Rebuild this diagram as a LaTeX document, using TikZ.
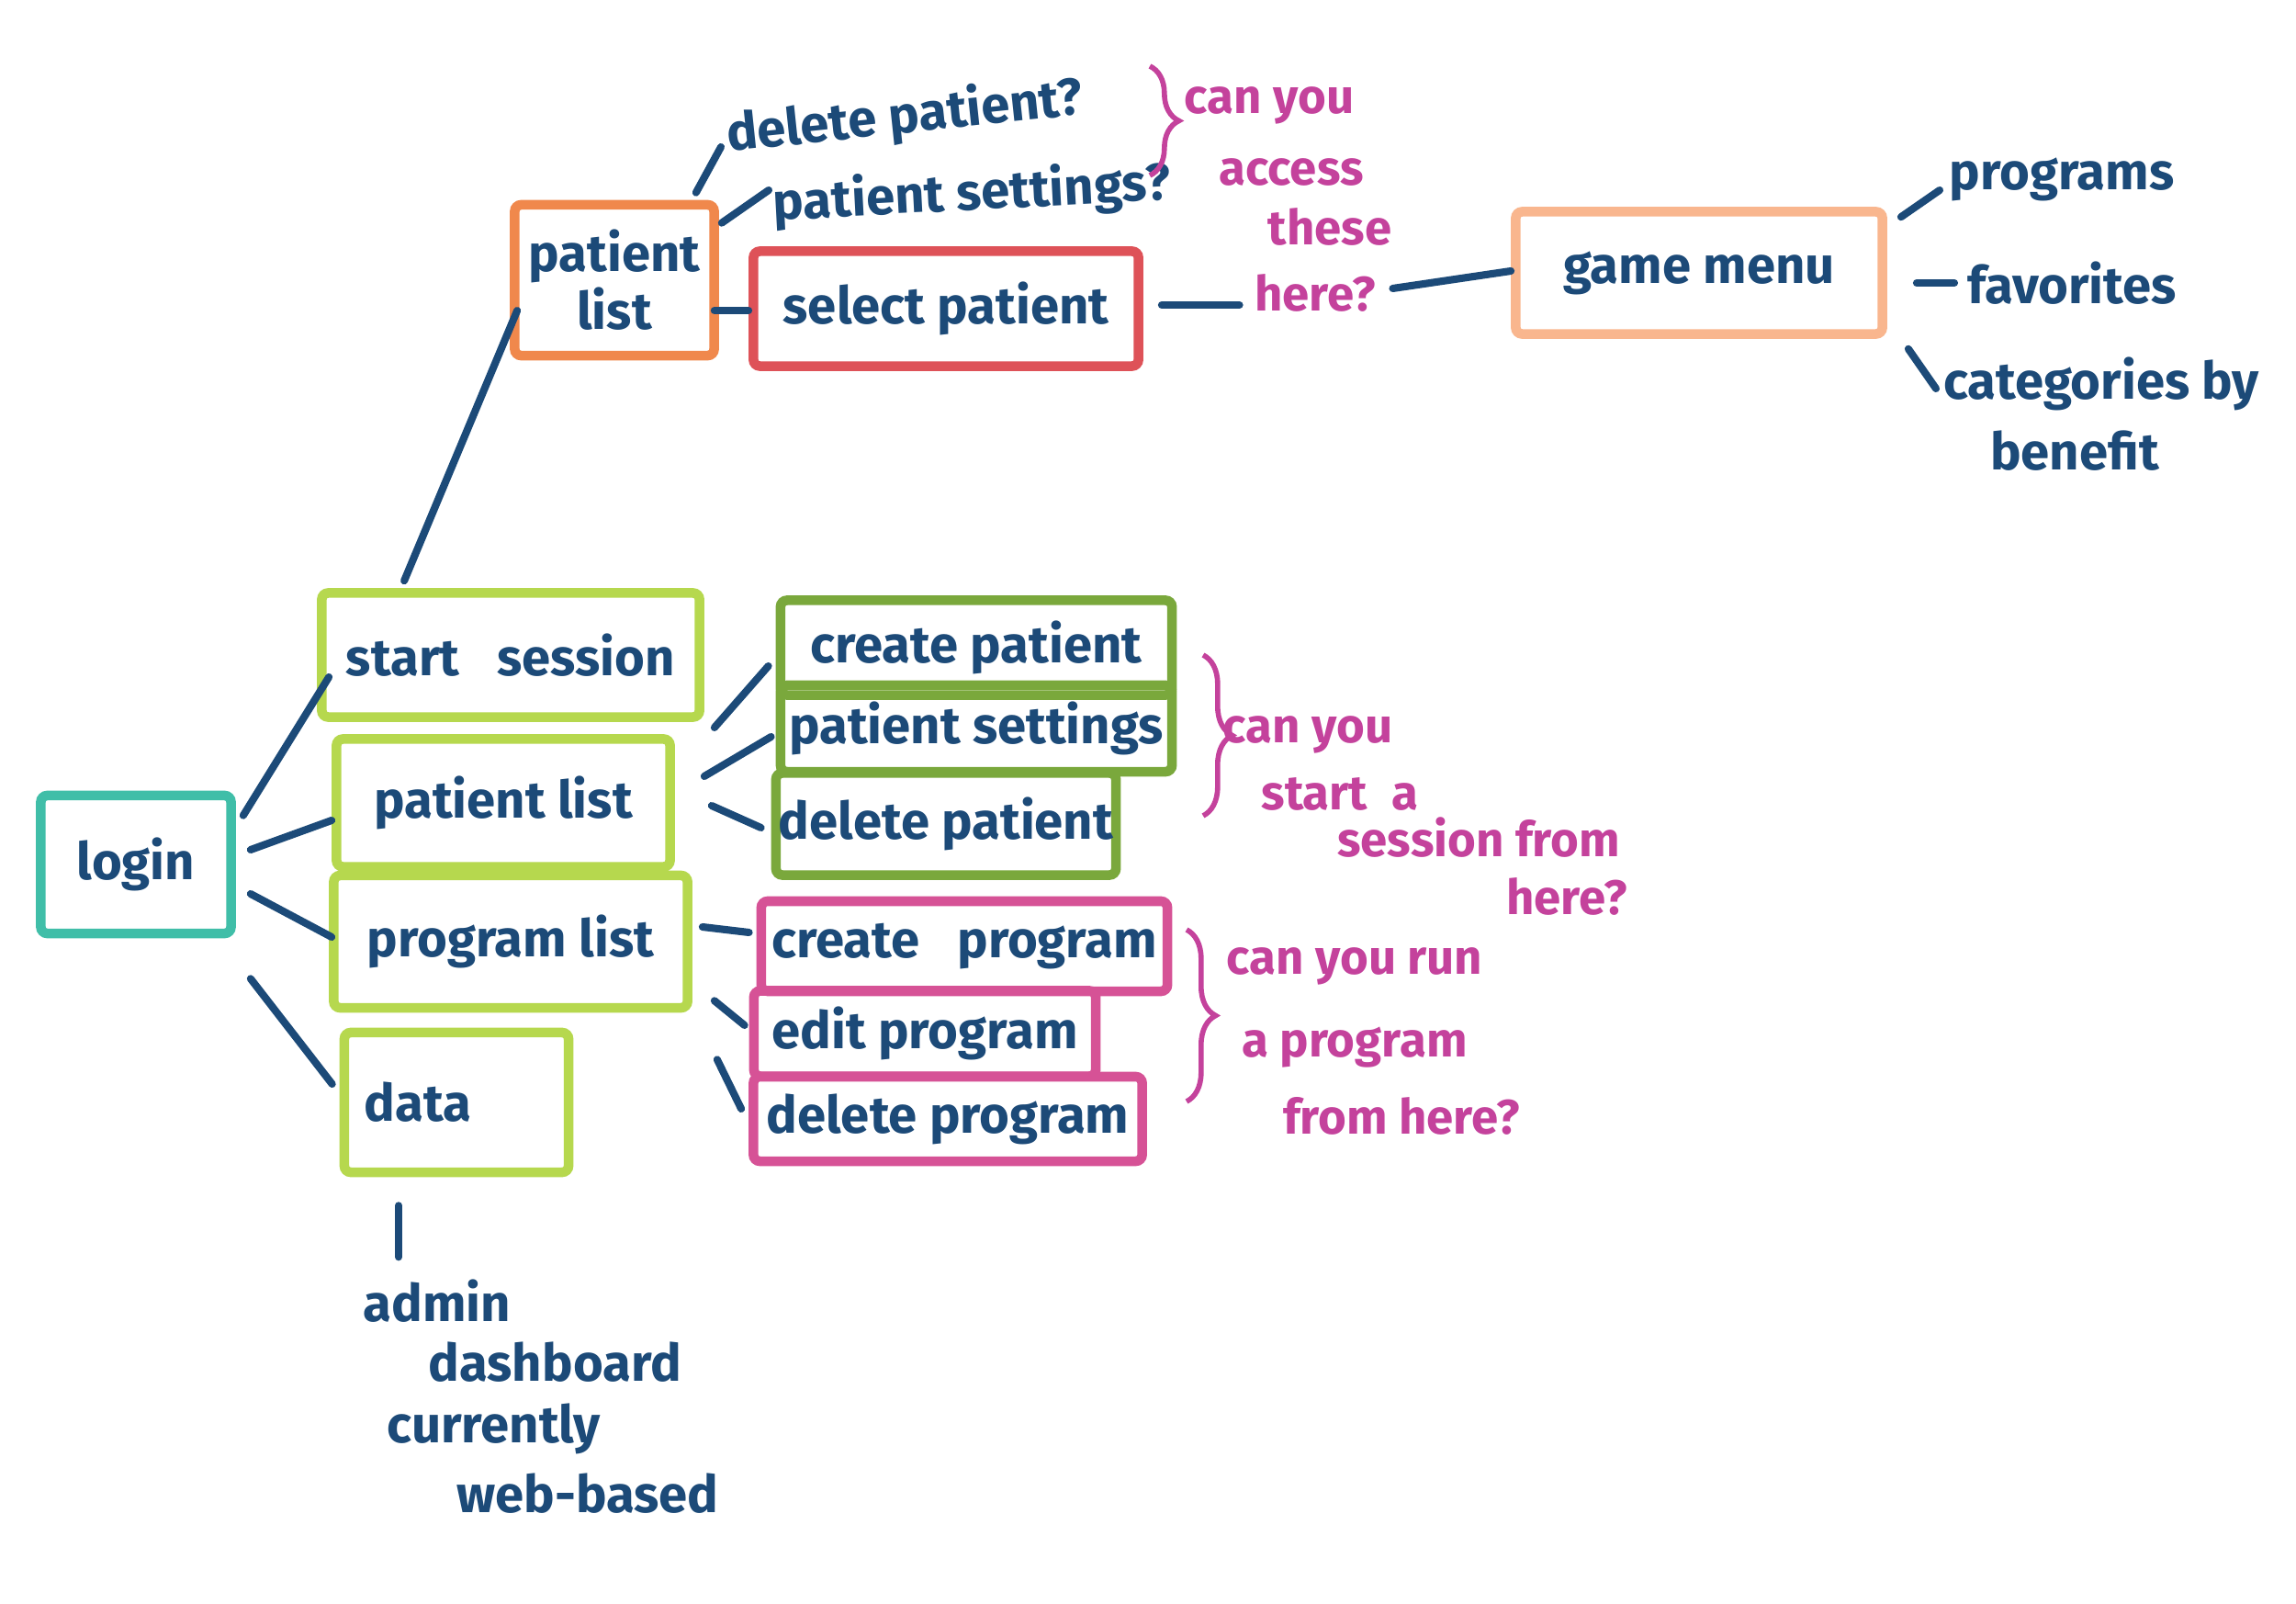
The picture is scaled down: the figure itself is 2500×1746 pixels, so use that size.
\documentclass[tikz,border=0pt]{standalone}
\usepackage{fontspec}
\setmainfont{Fira Sans}
\usetikzlibrary{calc,decorations.pathreplacing}
\definecolor{ink}{RGB}{28,74,120}
\definecolor{tealbox}{RGB}{64,190,168}
\definecolor{limebox}{RGB}{182,216,78}
\definecolor{greenbox}{RGB}{122,168,60}
\definecolor{orangebox}{RGB}{240,136,76}
\definecolor{redbox}{RGB}{222,82,88}
\definecolor{peachbox}{RGB}{249,182,142}
\definecolor{pinkbox}{RGB}{214,82,150}
\definecolor{pinktext}{RGB}{196,66,156}
\tikzset{
  boxbase/.style={draw, line width=3pt, rounded corners=2pt, inner sep=0pt, align=center,
    text=ink, font=\fontsize{16}{18}\selectfont\bfseries},
  loginbox/.style={boxbase, draw=tealbox},
  limeb/.style={boxbase, draw=limebox},
  greenb/.style={boxbase, draw=greenbox},
  orangeb/.style={boxbase, draw=orangebox},
  redb/.style={boxbase, draw=redbox},
  peachb/.style={boxbase, draw=peachbox},
  pinkb/.style={boxbase, draw=pinkbox},
  plain/.style={text=ink, inner sep=0pt, font=\fontsize{16}{18}\selectfont\bfseries},
  note/.style={text=pinktext, inner sep=0pt, font=\fontsize{15}{17}\selectfont\bfseries},
  conn/.style={draw=ink, line width=2.3pt, line cap=round},
  bracestyle/.style={draw=pinktext, line width=1.6pt, decorate, decoration={brace, amplitude=9pt}}
}
\begin{document}
\begin{tikzpicture}[x=0.01cm,y=-0.01cm]
\useasboundingbox[fill=white] (0,0) rectangle (2500,1746);

% main column
\node[loginbox, minimum width=2.07cm, minimum height=1.50cm] (login) at (148,941) {login};
\node[limeb, minimum width=4.11cm, minimum height=1.35cm] (startsession) at (556,713) {start\enspace\ session};
\node[limeb, minimum width=3.63cm, minimum height=1.39cm] (plist2) at (548,874) {patient list};
\node[limeb, minimum width=3.85cm, minimum height=1.44cm] (proglist) at (556,1025) {program list};
\node[limeb, minimum width=2.44cm, minimum height=1.52cm, text width=2.0cm, align=left] (data) at (497,1200) {data};

% upper branch
\node[orangeb, minimum width=2.17cm, minimum height=1.64cm] (plist1) at (669,305) {patient\\list};
\node[redb, minimum width=4.19cm, minimum height=1.25cm] (selpat) at (1030,336) {select patient};
\node[plain, rotate=6] (delpatq) at (985,128) {delete patient?};
\node[plain, rotate=3] (patsetq) at (1058,212) {patient settings?};
\node[note] (acc1) at (1382,115) {can you};
\node[note] (acc2) at (1406,188) {access};
\node[note] (acc3) at (1448,247) {these};
\node[note] (acc4) at (1432,319) {here?};
\node[peachb, minimum width=3.99cm, minimum height=1.33cm] (gamemenu) at (1850,297) {game menu};
\node[plain] (programs) at (2245,195) {programs};
\node[plain] (favorites) at (2256,308) {favorites};
\node[plain] (categories) at (2288,418) {categories by};
\node[plain] (benefit) at (2259,491) {benefit};

% patient list branch
\node[greenb, minimum width=4.26cm, minimum height=1.03cm] (createpat) at (1063,705) {create patient};
\node[greenb, minimum width=4.26cm, minimum height=0.94cm] (patset) at (1063,793) {patient settings};
\node[greenb, minimum width=3.70cm, minimum height=1.11cm] (delpat) at (1030,897) {delete patient};
\node[note] (ses1) at (1424,800) {can you};
\node[note] (ses2) at (1459,864) {start\enspace a};
\node[note] (ses3) at (1610,912) {session from};
\node[note] (ses4) at (1706,976) {here?};

% program list branch
\node[pinkb, minimum width=4.42cm, minimum height=0.98cm] (createprog) at (1050,1030) {create\enspace\ program};
\node[pinkb, minimum width=3.72cm, minimum height=0.93cm] (editprog) at (1007,1125) {edit program};
\node[pinkb, minimum width=4.23cm, minimum height=0.92cm] (delprog) at (1032,1218) {delete program};
\node[note] (run1) at (1475,1052) {can you run};
\node[note] (run2) at (1475,1140) {a program};
\node[note] (run3) at (1526,1215) {from here?};

% data notes
\node[plain, anchor=west] (admin) at (395,1416) {admin};
\node[plain, anchor=west] (dash) at (466,1483) {dashboard};
\node[plain, anchor=west] (curr) at (421,1555) {currently};
\node[plain, anchor=west] (web) at (497,1626) {web-based};

% braces
\coordinate (b1t) at (1252,72);  \coordinate (b1b) at (1252,191);
\coordinate (b2t) at (1310,713); \coordinate (b2b) at (1310,888);
\coordinate (b3t) at (1292,1012); \coordinate (b3b) at (1292,1199);
\draw[bracestyle] (b1t) -- (b1b);
\draw[bracestyle] (b2t) -- (b2b);
\draw[bracestyle] (b3t) -- (b3b);

% connectors
\draw[conn] ($(login.north east)+(8,27)$) -- ($(startsession.west)+(13,24)$);
\draw[conn] ($(login.east)+(16,-16)$) -- ($(plist2.west)+(0,19)$);
\draw[conn] ($(login.east)+(16,32)$) -- ($(proglist.west)+(3,-5)$);
\draw[conn] ($(login.south east)+(16,44)$) -- ($(data.west)+(-8,-20)$);
\draw[conn] ($(startsession.north west)+(95,-8)$) -- ($(plist1.west)+(8,33)$);
\draw[conn] ($(plist1.north east)+(-25,-8)$) -- ($(delpatq.center)+(-200,32)$);
\draw[conn] ($(plist1.north east)+(3,25)$) -- ($(patsetq.center)+(-221,-5)$);
\draw[conn] ($(plist1.east)+(-5,33)$) -- ($(selpat.west)+(0,2)$);
\draw[conn] ($(selpat.east)+(20,-4)$) -- ($(acc4.west)+(-16,13)$);
\draw[conn] ($(acc4.east)+(18,-5)$) -- ($(gamemenu.west)+(0,-2)$);
\draw[conn] ($(gamemenu.north east)+(15,11)$) -- ($(programs.center)+(-133,12)$);
\draw[conn] ($(gamemenu.east)+(32,11)$) -- ($(favorites.center)+(-128,0)$);
\draw[conn] ($(gamemenu.south east)+(23,11)$) -- ($(categories.center)+(-180,5)$);
\draw[conn] ($(plist2.east)+(43,-82)$) -- ($(createpat.west)+(-8,20)$);
\draw[conn] ($(plist2.east)+(32,-29)$) -- ($(patset.west)+(-5,9)$);
\draw[conn] ($(plist2.east)+(40,3)$) -- ($(delpat.west)+(-11,4)$);
\draw[conn] ($(proglist.east)+(11,-16)$) -- ($(createprog.west)+(-8,-15)$);
\draw[conn] ($(proglist.south east)+(24,-13)$) -- ($(editprog.west)+(-5,-9)$);
\draw[conn] ($(proglist.south east)+(27,51)$) -- ($(delprog.west)+(-8,-11)$);
\draw[conn] ($(data.south)+(-63,31)$) -- ($(data.south)+(-63,87)$);
\end{tikzpicture}
\end{document}
